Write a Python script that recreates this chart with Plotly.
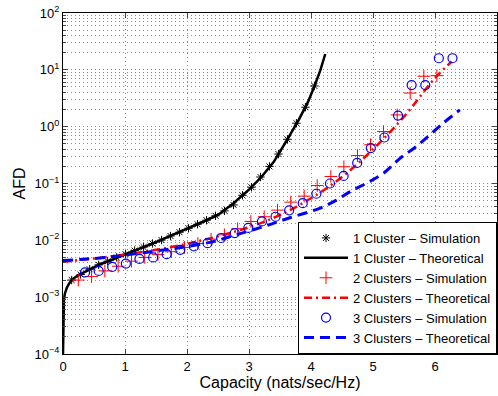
import plotly.graph_objects as go

# 1 cluster theoretical curve
c1_theory_x = [0.0, 0.002, 0.006, 0.015, 0.03, 0.06, 0.10, 0.15, 0.25, 0.40, 0.60, 0.80,
               1.00, 1.25, 1.50, 1.75, 2.00, 2.25, 2.50, 2.75, 3.00, 3.20, 3.40, 3.50,
               3.60, 3.80, 3.95, 4.05, 4.15, 4.23]
c1_theory_y = [1.0e-4, 3.0e-4, 6.0e-4, 9.0e-4, 1.15e-3, 1.45e-3, 1.75e-3, 2.05e-3, 2.45e-3,
               3.0e-3, 3.8e-3, 4.6e-3, 5.6e-3, 7.2e-3, 9.3e-3, 0.0122, 0.0158, 0.021, 0.028,
               0.045, 0.078, 0.13, 0.24, 0.36, 0.55, 1.3, 2.7, 5.0, 9.8, 19.0]

# 1 cluster simulation
c1_sim_x = [0.14, 0.285, 0.43, 0.575, 0.72, 0.865, 1.01, 1.155, 1.30, 1.445, 1.59, 1.735,
            1.88, 2.025, 2.17, 2.315, 2.46, 2.605, 2.75, 2.895, 3.04, 3.185, 3.33, 3.475,
            3.62, 3.765, 3.91, 4.055]
c1_sim_y = [2.0e-3, 2.5e-3, 3.1e-3, 3.7e-3, 4.3e-3, 5.0e-3, 5.7e-3, 6.6e-3, 7.6e-3, 8.8e-3,
            0.0101, 0.0119, 0.0139, 0.0163, 0.0192, 0.0226, 0.027, 0.033, 0.042, 0.062,
            0.086, 0.13, 0.2, 0.33, 0.6, 1.15, 2.2, 5.2]

# 2 clusters simulation
c2_sim_x = [0.247, 0.461, 0.675, 0.89, 1.104, 1.318, 1.532, 1.746, 1.96, 2.175, 2.389,
            2.603, 2.817, 3.03, 3.245, 3.46, 3.674, 3.89, 4.10, 4.32, 4.53, 4.75, 4.96,
            5.17, 5.39, 5.60, 5.82, 6.03]
c2_sim_y = [2.0e-3, 2.3e-3, 2.9e-3, 3.5e-3, 4.3e-3, 5.0e-3, 5.6e-3, 6.3e-3, 7.5e-3, 8.8e-3,
            0.0105, 0.0125, 0.016, 0.0215, 0.026, 0.034, 0.047, 0.06, 0.092, 0.133, 0.197,
            0.31, 0.48, 0.82, 1.61, 3.9, 7.7, 7.9]

# 2 clusters theoretical
c2_theory_x = [0.0, 0.5, 1.0, 1.5, 2.0, 2.5, 3.0, 3.5, 4.0, 4.5, 5.0, 5.5, 6.0, 6.27]
c2_theory_y = [4.2e-3, 4.8e-3, 5.6e-3, 6.8e-3, 8.7e-3, 0.0118, 0.017, 0.028, 0.055, 0.13,
               0.4, 1.5, 7.2, 14.0]

# 3 clusters simulation
c3_sim_x = [0.355, 0.575, 0.794, 1.014, 1.233, 1.453, 1.672, 1.892, 2.111, 2.331, 2.55,
            2.77, 2.989, 3.209, 3.428, 3.648, 3.867, 4.087, 4.306, 4.526, 4.745, 4.965,
            5.184, 5.404, 5.623, 5.843, 6.062, 6.282]
c3_sim_y = [2.73e-3, 2.9e-3, 3.4e-3, 3.9e-3, 4.7e-3, 5.0e-3, 5.7e-3, 6.8e-3, 7.8e-3, 8.9e-3,
            0.011, 0.0134, 0.0165, 0.0215, 0.026, 0.0336, 0.045, 0.066, 0.1, 0.136, 0.23,
            0.42, 0.645, 1.57, 5.4, 5.4, 16.0, 16.0]

# 3 clusters theoretical
c3_theory_x = [0.0, 0.6, 1.0, 1.5, 2.0, 2.42, 2.8, 3.23, 3.66, 4.15, 4.41, 4.63, 4.9, 5.17,
               5.44, 5.70, 6.13, 6.40]
c3_theory_y = [4.4e-3, 4.9e-3, 5.5e-3, 6.5e-3, 7.8e-3, 9.5e-3, 0.0126, 0.0174, 0.025, 0.037,
               0.051, 0.072, 0.102, 0.152, 0.28, 0.45, 1.15, 1.97]

x_ticks = [0, 1, 2, 3, 4, 5, 6, 7]
y_ticks = [1e-4, 1e-3, 1e-2, 1e-1, 1e0, 1e1, 1e2]
y_tick_text = ["10<sup>\u22124</sup>", "10<sup>\u22123</sup>", "10<sup>\u22122</sup>",
               "10<sup>\u22121</sup>", "10<sup>0</sup>", "10<sup>1</sup>", "10<sup>2</sup>"]

FONT = "Arial, 'Liberation Sans', Helvetica, sans-serif"

fig = go.Figure()
fig.add_trace(go.Scatter(x=c1_sim_x, y=c1_sim_y, mode="markers",
                         name="1 Cluster \u2013 Simulation",
                         marker=dict(symbol="asterisk-open", size=7, color="black",
                                     line=dict(color="black", width=1))))
fig.add_trace(go.Scatter(x=c1_theory_x, y=c1_theory_y, mode="lines",
                         name="1 Cluster \u2013 Theoretical",
                         line=dict(color="black", width=2.5)))
fig.add_trace(go.Scatter(x=c2_sim_x, y=c2_sim_y, mode="markers",
                         name="2 Clusters \u2013 Simulation",
                         marker=dict(symbol="cross-thin-open", size=9, color="#ff0000",
                                     line=dict(color="#ff0000", width=1))))
fig.add_trace(go.Scatter(x=c2_theory_x, y=c2_theory_y, mode="lines",
                         name="2 Clusters \u2013 Theoretical", line_shape="spline",
                         line=dict(color="#ff0000", width=2.5, dash="8px,4px,2px,4px")))
fig.add_trace(go.Scatter(x=c3_sim_x, y=c3_sim_y, mode="markers",
                         name="3 Clusters \u2013 Simulation",
                         marker=dict(symbol="circle-open", size=9, color="#0000ff",
                                     line=dict(color="#0000ff", width=1.2))))
fig.add_trace(go.Scatter(x=c3_theory_x, y=c3_theory_y, mode="lines",
                         name="3 Clusters \u2013 Theoretical", line_shape="spline",
                         line=dict(color="#0000ff", width=3, dash="10px,6px")))

GRIDC = "#8c8c8c"
GRIDDASH = "1px,3px"
fig.update_layout(
    width=498, height=396,
    margin=dict(l=63, r=1, t=13, b=42),
    paper_bgcolor="white", plot_bgcolor="white",
    font=dict(family=FONT, size=13, color="black"),
    showlegend=True,
    legend=dict(x=1, y=0, xanchor="right", yanchor="bottom",
                bgcolor="white", bordercolor="black", borderwidth=1,
                font=dict(size=13, family=FONT), itemwidth=44,
                tracegroupgap=0),
    xaxis=dict(range=[0, 7], tickvals=x_ticks, ticks="inside", ticklen=5,
               showline=True, linecolor="black", linewidth=1, mirror="ticks",
               showgrid=True, zeroline=False, gridcolor=GRIDC, griddash=GRIDDASH,
               gridwidth=1, automargin=False,
               title=dict(text="Capacity (nats/sec/Hz)", standoff=4)),
    yaxis=dict(type="log", range=[-4, 2], tickvals=y_ticks, ticktext=y_tick_text,
               ticks="inside", ticklen=5,
               showline=True, linecolor="black", linewidth=1, mirror="ticks",
               showgrid=True, zeroline=False, gridcolor=GRIDC, griddash=GRIDDASH,
               gridwidth=1, automargin=False,
               minor=dict(dtick="D1", ticks="inside", ticklen=3, showgrid=True,
                          gridcolor=GRIDC, griddash=GRIDDASH, gridwidth=1),
               title=dict(text="AFD", standoff=4)),
)

fig.write_html("out.html",
               config={"displayModeBar": False},
               post_script="document.body.style.margin='0';"
                           "document.body.style.overflow='hidden';")
